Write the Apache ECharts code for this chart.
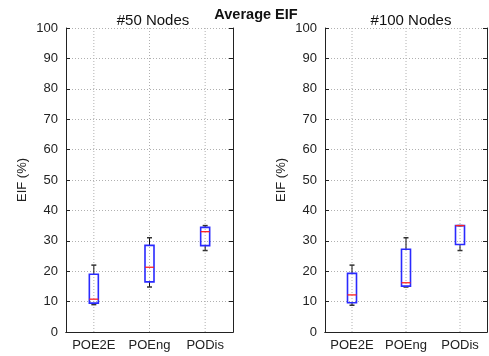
<!DOCTYPE html>
<html><head><meta charset="utf-8">
<script src="https://cdn.jsdelivr.net/npm/echarts@6/dist/echarts.min.js"></script>
<style>html,body{margin:0;padding:0;background:#fff}#c{width:489px;height:356px}</style>
</head><body><div id="c"></div>
<script>
const categories = ['POE2E', 'POEng', 'PODis'];
// [min, Q1, median, Q3, max]
const nodes50 = [[9, 9.5, 10.8, 19, 22], [14.8, 16.5, 21.3, 28.5, 31], [26.8, 28.4, 33, 34.4, 35]];
const nodes100 = [[8.8, 9.6, 12.2, 19.3, 22], [14.8, 15.1, 16.2, 27.2, 31], [26.8, 28.8, 35, 35, 35]];
const yMin = 0, yMax = 100, yStep = 10;

const FONT = "'Liberation Sans', Arial, sans-serif";
const chart = echarts.init(document.getElementById('c'), null, {renderer: 'canvas'});

function renderBox(params, api) {
  const i = api.value(0);
  const mn = api.value(1), q1 = api.value(2), md = api.value(3), q3 = api.value(4), mx = api.value(5);
  const x = api.coord([i, 0])[0];
  const y = v => api.coord([i, v])[1];
  const hw = 4.5, cap = 2.5;
  const black = {stroke: '#111', lineWidth: 1};
  return {
    type: 'group',
    children: [
      {type: 'line', shape: {x1: x, y1: y(yMin), x2: x, y2: y(yMax)}, style: {stroke: '#b0b0b0', lineWidth: 1, lineDash: [1, 2]}, silent: true},
      {type: 'line', shape: {x1: x, y1: y(q3), x2: x, y2: y(mx)}, style: black},
      {type: 'line', shape: {x1: x, y1: y(q1), x2: x, y2: y(mn)}, style: black},
      {type: 'line', shape: {x1: x - cap, y1: y(mx), x2: x + cap, y2: y(mx)}, style: {stroke: '#333', lineWidth: 1.5}},
      {type: 'line', shape: {x1: x - cap, y1: y(mn), x2: x + cap, y2: y(mn)}, style: {stroke: '#333', lineWidth: 1.5}},
      {type: 'rect', shape: {x: x - hw, y: y(q3), width: 2 * hw, height: y(q1) - y(q3)}, style: {fill: 'none', stroke: '#2a2aff', lineWidth: 1.6}},
      {type: 'line', shape: {x1: x - hw, y1: y(md), x2: x + hw, y2: y(md)}, style: {stroke: '#ff2020', lineWidth: 1.3}}
    ]
  };
}

function xAxes(gi) {
  return [
    {gridIndex: gi, type: 'category', data: categories, boundaryGap: true, position: 'bottom',
     axisLine: {lineStyle: {color: '#222', width: 1}},
     axisTick: {inside: true, alignWithLabel: true, length: 4, lineStyle: {color: '#222'}},
     axisLabel: {color: '#222', fontSize: 13, fontFamily: FONT, margin: 7, interval: 0},
     splitLine: {show: false}},
    {gridIndex: gi, type: 'category', data: categories, boundaryGap: true, position: 'top',
     axisLine: {lineStyle: {color: '#222', width: 1}},
     axisTick: {inside: true, alignWithLabel: true, length: 4, lineStyle: {color: '#222'}},
     axisLabel: {show: false}, splitLine: {show: false}}
  ];
}
function yAxes(gi) {
  return [
    {gridIndex: gi, type: 'value', min: yMin, max: yMax, interval: yStep, position: 'left',
     name: 'EIF (%)', nameLocation: 'middle', nameGap: 37,
     nameTextStyle: {color: '#222', fontSize: 13, fontFamily: FONT},
     axisLine: {show: true, lineStyle: {color: '#222', width: 1}},
     axisTick: {show: true, inside: true, length: 4, lineStyle: {color: '#222'}},
     axisLabel: {color: '#222', fontSize: 13, fontFamily: FONT, margin: 8},
     splitLine: {show: true, lineStyle: {color: '#b0b0b0', type: [1, 2], width: 1}}},
    {gridIndex: gi, type: 'value', min: yMin, max: yMax, interval: yStep, position: 'right',
     axisLine: {show: true, lineStyle: {color: '#222', width: 1}},
     axisTick: {show: true, inside: true, length: 4, lineStyle: {color: '#222'}},
     axisLabel: {show: false}, splitLine: {show: false}}
  ];
}

const toData = arr => arr.map((d, i) => [i].concat(d));

chart.setOption({
  animation: false,
  backgroundColor: '#fff',
  title: [
    {text: 'Average EIF', left: 251, top: 2, textAlign: 'center', textStyle: {fontSize: 14.5, fontWeight: 'bold', color: '#111', fontFamily: FONT}},
    {text: '#50 Nodes', left: 148, top: 8, textAlign: 'center', textStyle: {fontSize: 15, fontWeight: 'normal', color: '#111', fontFamily: FONT}},
    {text: '#100 Nodes', left: 406, top: 8, textAlign: 'center', textStyle: {fontSize: 15, fontWeight: 'normal', color: '#111', fontFamily: FONT}}
  ],
  grid: [
    {left: 66, right: 256, top: 28, bottom: 24},
    {left: 325, right: 2, top: 28, bottom: 24}
  ],
  xAxis: xAxes(0).concat(xAxes(1)),
  yAxis: yAxes(0).concat(yAxes(1)),
  series: [
    {type: 'custom', xAxisIndex: 0, yAxisIndex: 0, renderItem: renderBox, data: toData(nodes50), encode: {x: 0, y: [1, 2, 3, 4, 5]}, z: 5},
    {type: 'custom', xAxisIndex: 2, yAxisIndex: 2, renderItem: renderBox, data: toData(nodes100), encode: {x: 0, y: [1, 2, 3, 4, 5]}, z: 5}
  ]
});
</script></body></html>
